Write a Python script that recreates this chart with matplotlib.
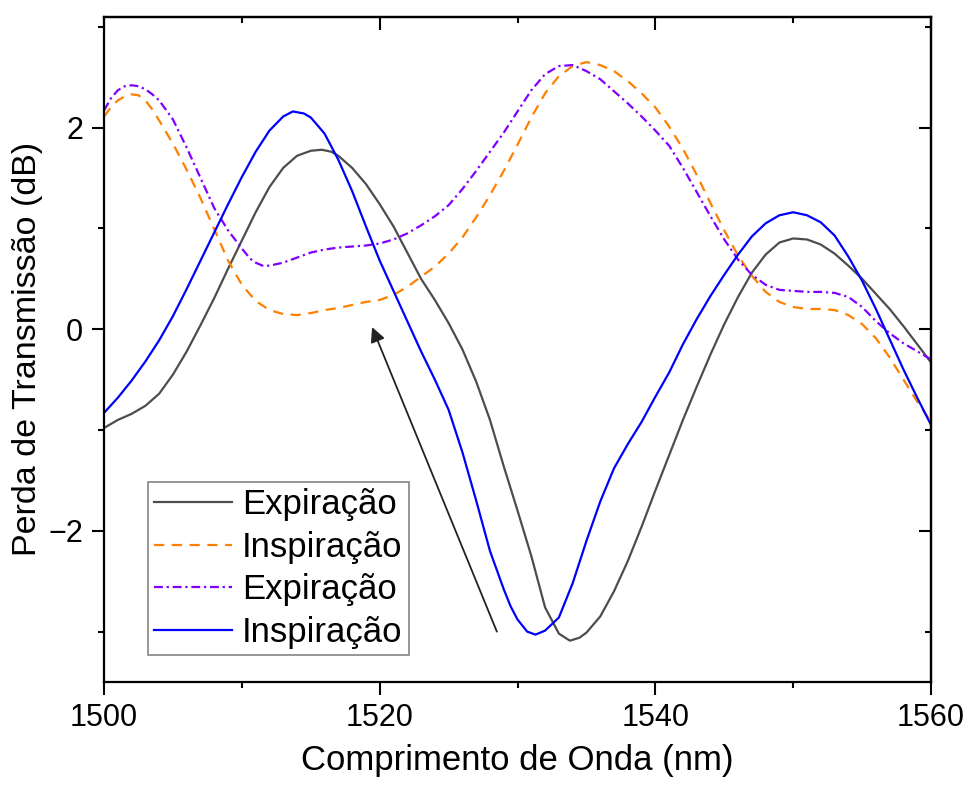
import matplotlib
matplotlib.use("Agg")
import matplotlib.pyplot as plt
from matplotlib.ticker import MultipleLocator

plt.rcParams['font.family'] = ['Liberation Sans', 'DejaVu Sans']

# Wavelength (nm) and transmission loss (dB) for each trace
wl_exp1 = [1500, 1501, 1502, 1503, 1504, 1505, 1506, 1507, 1508, 1509,
           1510, 1511, 1512, 1513, 1514, 1515, 1515.8, 1516.5, 1517, 1518,
           1519, 1520, 1521, 1522, 1523, 1524, 1525, 1526, 1527, 1528,
           1529, 1530, 1531, 1532, 1533, 1533.8, 1534.5, 1535, 1536, 1537,
           1538, 1539, 1540, 1541, 1542, 1543, 1544, 1545, 1546, 1547,
           1548, 1549, 1550, 1551, 1552, 1553, 1554, 1555, 1556, 1557,
           1558, 1559, 1560]
loss_exp1 = [-0.98, -0.90, -0.84, -0.76, -0.64, -0.45, -0.22, 0.04, 0.31, 0.60,
             0.88, 1.16, 1.41, 1.60, 1.72, 1.77, 1.78, 1.76, 1.72, 1.60,
             1.44, 1.24, 1.02, 0.76, 0.50, 0.29, 0.06, -0.20, -0.52, -0.90,
             -1.36, -1.80, -2.25, -2.76, -3.02, -3.09, -3.06, -3.01, -2.85, -2.60,
             -2.30, -1.96, -1.60, -1.25, -0.90, -0.57, -0.25, 0.05, 0.32, 0.56,
             0.74, 0.86, 0.90, 0.89, 0.84, 0.75, 0.63, 0.50, 0.35, 0.20,
             0.03, -0.15, -0.33]

wl_insp1 = [1500, 1500.5, 1501, 1501.5, 1502, 1502.5, 1503, 1503.5, 1504, 1505,
            1506, 1507, 1508, 1509, 1510, 1511, 1512, 1513, 1514, 1515,
            1516, 1517, 1518, 1519, 1520, 1521, 1522, 1523, 1524, 1525,
            1526, 1527, 1528, 1529, 1530, 1531, 1532, 1533, 1534, 1535,
            1536, 1537, 1538, 1539, 1540, 1541, 1542, 1543, 1544, 1545,
            1546, 1547, 1548, 1549, 1550, 1551, 1552, 1553, 1554, 1555,
            1556, 1557, 1558, 1559, 1560]
loss_insp1 = [2.11, 2.20, 2.27, 2.31, 2.33, 2.32, 2.27, 2.18, 2.07, 1.84,
              1.58, 1.30, 0.99, 0.68, 0.44, 0.28, 0.19, 0.15, 0.14, 0.16,
              0.19, 0.21, 0.24, 0.27, 0.29, 0.34, 0.42, 0.52, 0.62, 0.75,
              0.91, 1.11, 1.33, 1.57, 1.83, 2.10, 2.34, 2.51, 2.61, 2.65,
              2.62, 2.56, 2.46, 2.34, 2.20, 2.01, 1.79, 1.53, 1.25, 0.98,
              0.73, 0.53, 0.37, 0.27, 0.22, 0.20, 0.20, 0.19, 0.14, 0.05,
              -0.09, -0.28, -0.50, -0.72, -0.92]

wl_exp2 = [1500, 1500.5, 1501, 1501.5, 1502, 1502.5, 1503, 1503.5, 1504, 1505,
           1506, 1507, 1508, 1509, 1510, 1510.6, 1511, 1511.5, 1512, 1513,
           1514, 1515, 1516, 1517, 1518, 1519, 1520, 1521, 1522, 1523,
           1524, 1525, 1526, 1527, 1528, 1529, 1530, 1531, 1532, 1533,
           1534, 1535, 1536, 1537, 1538, 1539, 1540, 1541, 1542, 1543,
           1544, 1545, 1546, 1547, 1548, 1549, 1550, 1551, 1552, 1553,
           1554, 1555, 1556, 1557, 1558, 1559, 1560]
loss_exp2 = [2.17, 2.29, 2.37, 2.41, 2.42, 2.41, 2.38, 2.33, 2.27, 2.08,
             1.80, 1.50, 1.20, 0.98, 0.80, 0.70, 0.66, 0.63, 0.63, 0.66,
             0.71, 0.76, 0.79, 0.81, 0.82, 0.83, 0.85, 0.89, 0.95, 1.03,
             1.12, 1.23, 1.39, 1.57, 1.76, 1.95, 2.16, 2.37, 2.53, 2.61,
             2.62, 2.56, 2.48, 2.36, 2.24, 2.11, 1.97, 1.82, 1.60, 1.36,
             1.12, 0.89, 0.69, 0.54, 0.44, 0.39, 0.38, 0.37, 0.37, 0.36,
             0.32, 0.22, 0.08, -0.04, -0.14, -0.22, -0.30]

wl_insp2 = [1500, 1501, 1502, 1503, 1504, 1505, 1506, 1507, 1508, 1509,
            1510, 1511, 1512, 1513, 1513.7, 1514.5, 1515, 1516, 1517, 1518,
            1519, 1520, 1521, 1522, 1523, 1524, 1525, 1526, 1527, 1528,
            1529, 1529.5, 1530, 1530.7, 1531.3, 1532, 1533, 1534, 1535, 1536,
            1537, 1538, 1539, 1540, 1541, 1542, 1543, 1544, 1545, 1546,
            1547, 1548, 1549, 1550, 1551, 1552, 1553, 1554, 1555, 1556,
            1557, 1558, 1559, 1560]
loss_insp2 = [-0.83, -0.68, -0.51, -0.32, -0.11, 0.13, 0.40, 0.68, 0.96, 1.24,
              1.51, 1.76, 1.97, 2.11, 2.16, 2.14, 2.10, 1.94, 1.68, 1.37,
              1.02, 0.68, 0.38, 0.08, -0.22, -0.50, -0.80, -1.22, -1.70, -2.20,
              -2.58, -2.75, -2.88, -3.00, -3.03, -2.99, -2.86, -2.52, -2.10, -1.71,
              -1.38, -1.14, -0.92, -0.67, -0.43, -0.15, 0.10, 0.33, 0.54, 0.74,
              0.92, 1.05, 1.13, 1.16, 1.13, 1.06, 0.93, 0.72, 0.48, 0.20,
              -0.10, -0.40, -0.68, -0.95]

labels = ['Expiração', 'Inspiração', 'Expiração', 'Inspiração']

# Arrow pointing from the dip region back up to the shoulder
arrow_tail = (1528.5, -3.0)
arrow_head = (1519.45, 0.02)

fig = plt.figure(figsize=(9.66, 7.87), dpi=100)
ax = fig.add_axes([0.1077, 0.1334, 0.8561, 0.8454])

lw = 1.6
ax.plot(wl_exp1, loss_exp1, color='#4d4d4d', lw=lw, label=labels[0])
ax.plot(wl_insp1, loss_insp1, color='#ff8000', lw=lw, dashes=(4.6, 3.4), label=labels[1])
ax.plot(wl_exp2, loss_exp2, color='#8000ff', lw=lw, dashes=(4.0, 1.7, 1.0, 1.7), label=labels[2])
ax.plot(wl_insp2, loss_insp2, color='#0000ff', lw=lw, label=labels[3])

ax.annotate('', xy=arrow_head, xytext=arrow_tail,
            arrowprops=dict(arrowstyle='-|>', color='#222222', lw=1.3,
                            mutation_scale=22, shrinkA=0, shrinkB=0))

ax.set_xlim(1500, 1560)
ax.set_ylim(-3.5, 3.1)
ax.xaxis.set_major_locator(MultipleLocator(20))
ax.xaxis.set_minor_locator(MultipleLocator(10))
ax.yaxis.set_minor_locator(MultipleLocator(1))
ax.set_yticks([-2, 0, 2])
ax.set_yticklabels(['\u22122', '0', '2'])

for s in ax.spines.values():
    s.set_linewidth(1.6)

ax.tick_params(axis='both', which='major', length=9, width=1.5, labelsize=22, pad=6)
ax.tick_params(axis='both', which='minor', length=4.5, width=1.5)
ax.tick_params(axis='both', which='both', direction='out', top=False, right=False)

# inward ticks on the top and right spines
ax_top = ax.secondary_xaxis('top')
ax_top.xaxis.set_major_locator(MultipleLocator(20))
ax_top.xaxis.set_minor_locator(MultipleLocator(10))
ax_top.tick_params(which='major', direction='in', length=9, width=1.5, labeltop=False)
ax_top.tick_params(which='minor', direction='in', length=4.5, width=1.5)
ax_top.spines['top'].set_linewidth(1.6)
ax_right = ax.secondary_yaxis('right')
ax_right.set_yticks([-2, 0, 2])
ax_right.yaxis.set_minor_locator(MultipleLocator(1))
ax_right.tick_params(which='major', direction='in', length=9, width=1.5, labelright=False)
ax_right.tick_params(which='minor', direction='in', length=4.5, width=1.5)
ax_right.spines['right'].set_linewidth(1.6)

ax.set_xlabel('Comprimento de Onda (nm)', fontsize=25, labelpad=8)
ax.set_ylabel('Perda de Transmissão (dB)', fontsize=24.5, labelpad=4)

leg = ax.legend(loc='lower left', bbox_to_anchor=(0.053, 0.040), borderaxespad=0,
                fontsize=25, fancybox=False, frameon=True, handlelength=2.25,
                handletextpad=0.28, labelspacing=0.28, borderpad=0.18)
leg.get_frame().set_edgecolor('#666666')
leg.get_frame().set_linewidth(1.2)

fig.savefig('out.png', dpi=100)
